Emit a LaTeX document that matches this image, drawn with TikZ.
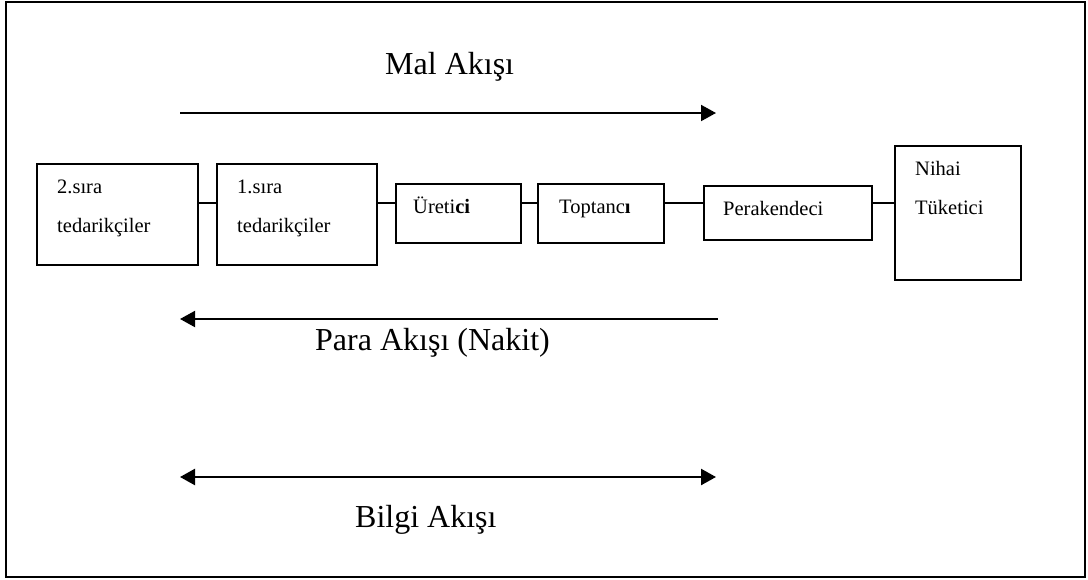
\documentclass[tikz,border=0pt]{standalone}
\usepackage{fontspec}
\setmainfont{Liberation Serif}
\usetikzlibrary{arrows.meta}

\tikzset{
  stagebox/.style={draw, line width=2pt, inner sep=0pt, anchor=north west},
  boxtext/.style={anchor=base west, inner sep=0pt, font=\fontsize{20.5}{24}\selectfont},
  flowlabel/.style={anchor=base west, inner sep=0pt, font=\fontsize{32}{38}\selectfont},
  link/.style={line width=2pt},
  flow/.style={line width=2pt, >={Triangle[length=15pt,width=16pt]}},
}

\begin{document}
\begin{tikzpicture}[x=1pt,y=-1pt]
  \useasboundingbox (0,0) rectangle (1088,579);
  % outer frame
  \draw[line width=2pt] (6,2) rectangle (1085,577);

  % supply chain stages
  \node[stagebox, minimum width=161pt, minimum height=101pt] (b1) at (36,163) {};
  \node[stagebox, minimum width=160pt, minimum height=101pt] (b2) at (216,163) {};
  \node[stagebox, minimum width=125pt, minimum height=59pt]  (b3) at (395,183) {};
  \node[stagebox, minimum width=126pt, minimum height=59pt]  (b4) at (537,183) {};
  \node[stagebox, minimum width=168pt, minimum height=54pt]  (b5) at (703,185) {};
  \node[stagebox, minimum width=126pt, minimum height=134pt] (b6) at (894,145) {};

  \node[boxtext] (t1a) at (57,193)  {2.sıra};
  \node[boxtext] (t1b) at (57,232)  {tedarikçiler};
  \node[boxtext] (t2a) at (237,193) {1.sıra};
  \node[boxtext] (t2b) at (237,232) {tedarikçiler};
  \node[boxtext] (t3)  at (413,213) {Üreti\textbf{ci}};
  \node[boxtext] (t4)  at (559,213) {Toptanc\textbf{ı}};
  \node[boxtext] (t5)  at (723,215) {Perakendeci};
  \node[boxtext] (t6a) at (915,175) {Nihai};
  \node[boxtext] (t6b) at (915,214) {Tüketici};

  % links between stages
  \coordinate (row) at (0,203);
  \draw[link] (b1.east |- row) -- (b2.west |- row);
  \draw[link] (b2.east |- row) -- (b3.west |- row);
  \draw[link] (b3.east |- row) -- (b4.west |- row);
  \draw[link] (b4.east |- row) -- (b5.west |- row);
  \draw[link] (b5.east |- row) -- (b6.west |- row);

  % flows
  \coordinate (ms) at (180,113);
  \coordinate (me) at (716,113);
  \draw[flow,->] (ms) -- (me);
  \node[flowlabel] (mal) at (385,74) {Mal Akışı};

  \coordinate (ps) at (718,319);
  \coordinate (pe) at (180,319);
  \draw[flow,->] (ps) -- (pe);
  \node[flowlabel] (para) at (315,350) {Para Akışı (Nakit)};

  \coordinate (bs) at (180,477);
  \coordinate (be) at (716,477);
  \draw[flow,<->,line width=2.4pt] (bs) -- (be);
  \node[flowlabel] (bilgi) at (355,527) {Bilgi Akışı};
\end{tikzpicture}
\end{document}
